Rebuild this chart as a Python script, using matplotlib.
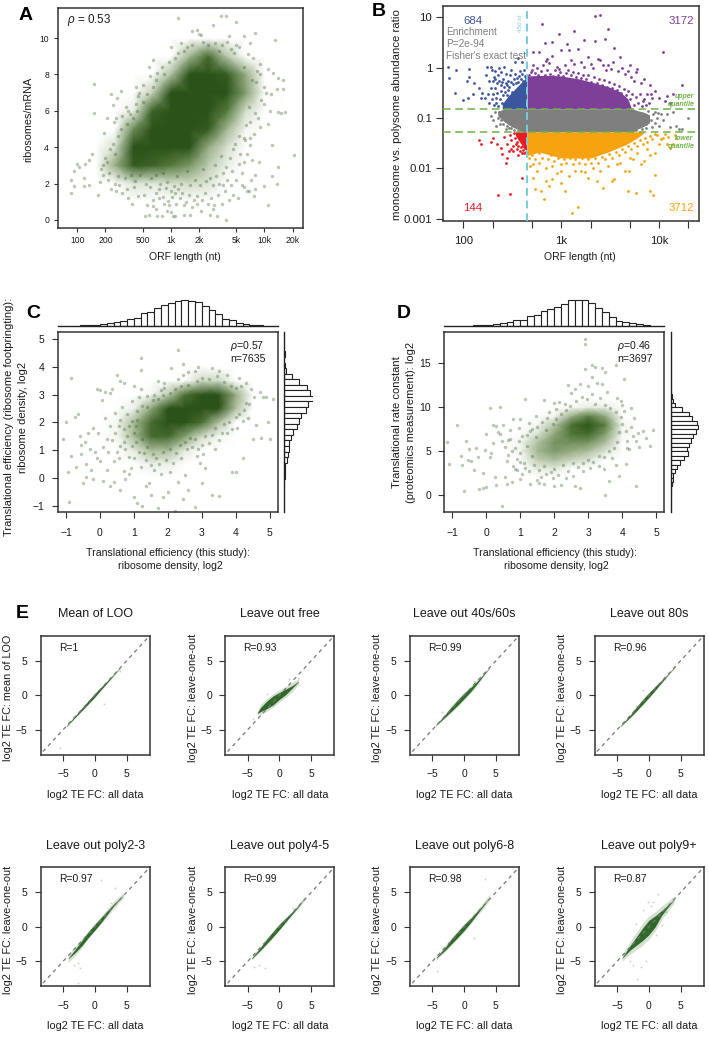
import matplotlib
matplotlib.use('Agg')
import matplotlib.pyplot as plt
from matplotlib.colors import LinearSegmentedColormap

plt.rcParams['font.family'] = ['Liberation Sans', 'DejaVu Sans']
plt.rcParams['mathtext.fontset'] = 'custom'
plt.rcParams['mathtext.it'] = 'Liberation Sans:italic'

W, H = 709, 1040
GREEN = '#2b5218'
FRAME = '#333333'
TEXT = '#1a1a1a'
green_map = LinearSegmentedColormap.from_list('dens', [(0, '#ffffff'), (.08, '#ffffff'), (.22, '#d8e1d0'), (.4, '#9cb089'),
                                                       (.62, '#557a3c'), (.85, GREEN), (1, GREEN)])

a_grid_x = [100, 158, 251, 398, 631, 1000, 1585, 2512, 3981, 6310, 10000, 15849]
a_grid_y = [0, 1, 2, 3, 4, 5, 6, 7, 8, 9, 10, 11]
a_density = [
    [0, 0, 0, 0, 0, 0, 0, 0, 0, 0, 0, 0],
    [0, 0, 0, 0, .03, .08, .08, .05, 0, 0, 0, 0],
    [0, 0, .03, .2, .18, .22, .24, .2, .08, 0, 0, 0],
    [0, 0, .4, .8, .75, .62, .5, .3, .15, 0, 0, 0],
    [0, 0, .22, .88, 1, 1, .85, .42, .22, .07, 0, 0],
    [0, 0, .07, .55, 1, 1, 1, .8, .38, .12, 0, 0],
    [0, 0, 0, .16, .75, 1, 1, 1, .62, .24, 0, 0],
    [0, 0, 0, .03, .28, .88, 1, 1, .85, .48, .1, 0],
    [0, 0, 0, 0, .06, .34, .92, 1, .8, .42, .06, 0],
    [0, 0, 0, 0, 0, .06, .38, .7, .32, .06, 0, 0],
    [0, 0, 0, 0, 0, 0, 0, .03, 0, 0, 0, 0],
    [0, 0, 0, 0, 0, 0, 0, 0, 0, 0, 0, 0],
]
a_points = [(1200, 11.1), (3400, 11.2), (3900, 11.2), (5000, 10.9), (2800, 10.7), (1700, 10.4), (1900, 10.45), (2000, 10.2), (2100, 10.15),
            (8000, 10.3), (6000, 10.1), (13000, 9.9), (4200, 10.1), (1000, 9.5), (1300, 9.7), (1500, 9.5), (5000, 9.6), (7000, 9.7),
            (85, 2.2), (85, 1.5), (93, 1.85), (92, 2.7), (100, 3.1), (105, 2.9), (120, 3.1), (118, 2.3), (118, 1.85), (135, 1.9), (145, 3.6),
            (135, 3.3), (150, 7.5), (150, 5.9), (165, 1.4), (180, 2.8), (200, 3.4), (195, 4.8), (210, 5.6), (245, 5.4), (230, 6.9), (240, 6.3),
            (290, 7.1), (265, 6.7), (530, .2), (590, .25), (720, .2), (800, .2), (900, .5), (1000, .45), (1050, .2), (1100, .2), (1400, .3),
            (1600, .3), (2100, .5), (2600, .25), (3100, .2), (3900, 0), (2800, .6), (1900, .9), (20500, 3.55), (14000, 2.9), (13500, 2),
            (11000, .8), (12000, 2.4), (10000, 1.85), (8000, 1.7), (7700, 1.3), (6000, 1.8), (6800, 1.6), (15000, 5.9), (14000, 5.95),
            (16500, 5.95), (16000, 7.2), (16000, 7.7), (14000, 7.8), (13500, 7.2), (11000, 8.3), (12500, 8.1), (9000, 8), (10000, 6.4),
            (11500, 6), (11000, 5.3), (8000, 5.9), (12000, 4.1), (9000, 5.1), (7000, 4.5), (6000, 4.5),
            (250, 2), (220, 2.6), (190, 2.5), (175, 2.1), (210, 3.2), (230, 1.7), (280, 1.9), (300, 1.5), (350, 1.2), (330, 6.2), (370, 5.8),
            (420, 6.4), (460, 7), (510, 7.4), (600, 7.9), (560, .8), (650, 1.1), (700, .6), (750, 1.2), (850, .9), (950, .8), (1100, 1.5),
            (1250, 1.2), (1450, 1), (1700, .7), (1900, 1.3), (2300, 1.5), (2500, .9), (2900, .8), (3200, 1.4), (3500, .9), (3800, 1.6),
            (4200, 1.1), (4600, 1.4), (5200, 1.2), (5800, 1.9), (6500, 1.6), (7200, 2.2), (8000, 2.5), (8700, 3.2),
            (900, 2.1), (1000, 1.6), (1150, 2.4), (1300, 2), (1500, 2.7), (1800, 2.2), (2200, 2.8), (2600, 2.3), (3000, 3), (3400, 3.5),
            (3900, 2.9), (4300, 3.4), (4800, 4.2), (5500, 3.6), (6200, 4.4), (7000, 4.1), (800, 8.4), (720, 8.1), (640, 8.8), (580, 8.4),
            (600, 1.8), (750, 1.7), (520, 1.4), (450, 1.3), (400, 1.8), (380, .9), (450, 6.8), (500, 6.5), (420, 7.3), (350, 6), (300, 5.7),
            (260, 5.6), (6000, 8.4), (7500, 8.9), (9000, 8.6), (8200, 7.6), (6700, 9.1), (5400, 9.5), (4700, 9.2), (4000, 9.8), (3500, 9.6),
            (640, .75), (690, 1.5), (770, 2), (830, 1.25), (880, 1.75), (930, 1.05), (1020, 1.25), (1080, 1.85), (1130, .9), (1180, 1.7),
            (1330, 1.5), (1380, .85), (1560, 1.35), (1620, 1.9), (1760, 1.1), (2050, 1.95), (2150, 1.1), (2400, 2.15), (2700, 1.2), (2850, 1.9),
            (3050, 2.4), (3300, 2), (3650, 2.6), (3600, 1.9), (4000, 2.2), (4400, 1.9), (4500, 2.7), (5000, 2.2), (5300, 3.1), (5700, 2.6),
            (6100, 3.2), (6600, 3.6), (7400, 3.3), (7800, 4.7), (7000, 5.4), (8500, 5.6), (9200, 6.6), (9800, 7.3), (8300, 8.2), (7400, 7.7),
            (10500, 7), (11800, 6.9), (6400, 5.2), (6800, 6.2), (5400, 4.6), (4600, 3.9), (190, 3), (215, 2.2), (260, 1.6), (270, 2.4), (320, 2.3),
            (340, 1.7), (375, 2.5), (410, 2.15), (470, 2.45), (540, 2), (610, 2.3), (700, 2.5), (820, 2.6), (240, 4.2), (270, 4.6), (225, 3.9),
            (290, 5), (340, 5.3), (390, 5.6), (430, 6), (250, 3.6), (560, 6.9), (640, 7.3), (700, 7.7), (850, 8), (950, 8.7), (1100, 8.9),
            (1200, 9.2), (1400, 9.3), (1700, 9.6), (2200, 9.8), (2500, 9.6), (3000, 9.7), (3300, 9.3), (4400, 9.4)]

# ---- panel B: solid bands per class (length vs. upper/lower ratio), plus loose points
b_blue_x = [250, 290, 330, 380, 445]
b_blue_top = [.19, .28, .36, .48, .64]
b_purple_x = [450, 600, 800, 1000, 1500, 2000, 3000, 4000, 4800, 5200]
b_purple_top = [.68, .7, .7, .68, .6, .52, .42, .33, .24, .16]
b_gray_x = [225, 260, 300, 400, 5500, 6000, 7000, 8000]
b_gray_low = [.11, .085, .07, .053, .053, .06, .068, .08]
b_gray_top = [.135, .15, .15, .15, .15, .14, .13, .115]
b_red_x = [340, 370, 400, 445]
b_red_low = [.045, .035, .028, .022]
b_orange_x = [450, 600, 1000, 2000, 3000, 4500, 6000, 7000]
b_orange_low = [.018, .021, .016, .016, .021, .029, .04, .05]
b_upper = 0.15
b_lower = 0.053
b_cut = 445
b_blue_points = [(70, 1.05), (72, .62), (82, .32), (85, .9), (100, .23), (108, .55), (112, .25), (115, .95), (115, .65), (125, .3), (130, .5),
                 (145, .4), (150, .25), (155, .32), (165, .25), (175, 1.05), (170, .7), (185, .55), (190, 1.05), (195, .9), (200, .55), (210, .85),
                 (210, .4), (225, .7), (230, 1.0), (240, .45), (260, 1.05), (270, .75), (285, .55), (310, .9), (335, 1.3), (400, 1.3), (360, 1.55),
                 (200, .3), (180, .3), (215, .25), (230, .55), (255, .6), (280, .45), (300, .7), (340, .75), (380, .85), (420, .9), (190, .4), (205, .65),
                 (185, .2), (195, .24), (205, .18), (215, .2), (220, .32), (228, .17), (235, .24), (240, .35), (247, .2), (252, .28), (258, .42), (265, .33),
                 (270, .18), (272, .5), (278, .28), (285, .36), (290, .22), (295, .42), (305, .52), (312, .33), (320, .48), (330, .6), (345, .5),
                 (352, .62), (365, .52), (372, .68), (388, .6), (395, .75), (410, .55), (425, .68), (438, .62), (250, .52), (222, .5), (210, .6), (245, .82)]
b_purple_points = [(2200, 10.5), (2500, 11), (630, 7.5), (950, 4.7), (1350, 5.3), (3000, 5.8), (1700, 3.5), (2200, 3.3), (2800, 3.7), (1150, 2.9),
                   (800, 3.2), (680, 3.1), (520, 2), (600, 2), (720, 1.5), (800, 1.7), (1000, 2.2), (1200, 2.2), (1500, 2.3), (1900, 1.6), (2500, 1.4),
                   (3000, 1.1), (3500, 2.4), (4000, 1.6), (11000, 2), (5000, 1.1), (6000, .95), (7000, .6), (8000, .45), (9000, .35), (10000, .25),
                   (12000, .27), (14000, .3), (17000, .45), (13000, .2), (11500, .22), (500, .9), (560, 1), (650, 1.1), (750, 1.25), (900, 1.05),
                   (1100, 1.15), (1350, 1.2), (1700, 1.05), (2100, 1), (2700, 1.1), (3200, .95), (3800, .85), (4500, .75), (5200, .65), (5800, .8),
                   (6500, .5), (7500, .3), (8500, .25), (5500, .55), (6800, .22), (4800, .85), (520, 1.1), (700, 1.35), (950, .95), (1250, 1.4),
                   (1600, 1.3), (2000, 1.2), (2400, 1.45), (2900, .9), (3400, 1.3), (4200, 1),
                   (470, .72), (490, .82), (540, .78), (580, .7), (620, .85), (680, .72), (720, .9), (770, .75), (830, .68), (870, .88), (930, .72),
                   (980, .82), (1040, .68), (1120, .78), (1180, .9), (1260, .7), (1330, .82), (1420, .66), (1480, .78), (1580, .62), (1660, .72),
                   (1800, .58), (1880, .7), (2000, .52), (2150, .66), (2300, .5), (2450, .6), (2600, .45), (2750, .56), (2950, .42), (3100, .52),
                   (3300, .4), (3500, .48), (3700, .36), (3900, .44), (4100, .32), (4350, .38), (4600, .28), (4850, .35), (5100, .24), (5300, .3),
                   (5600, .18), (5800, .26), (6100, .2), (6400, .3), (6700, .17), (7100, .24), (7400, .18), (7900, .2), (8300, .3)]
b_gray_points = [(9500, .1), (11000, .09), (12000, .12), (14000, .13), (15000, .07), (16000, .06), (13000, .065), (17000, .06), (20000, .1), (190, .11),
                 (200, .09), (215, .07), (10000, .07), (10500, .12), (8500, .065), (9000, .13), (210, .13), (235, .075), (270, .06),
                 (225, .1), (232, .13), (245, .09), (255, .075), (265, .13), (280, .07), (290, .062), (310, .063), (330, .058), (360, .056),
                 (5800, .057), (6300, .065), (6700, .06), (7300, .075), (7700, .14), (8200, .09), (8600, .12), (9100, .08), (9800, .125), (7400, .062)]
b_red_points = [(225, .003), (300, .0031), (400, .0065), (145, .037), (150, .03), (190, .034), (200, .04), (240, .025), (250, .019), (270, .013), (280, .016),
                (280, .03), (300, .045), (260, .042), (330, .05), (350, .024), (360, .018), (290, .022), (320, .028), (340, .04), (310, .036), (220, .03),
                (375, .045), (395, .02), (305, .024), (325, .022), (345, .03), (355, .033), (365, .028), (385, .026), (405, .023), (420, .02), (435, .021),
                (380, .022), (410, .028), (425, .025)]
b_orange_points = [(480, .011), (520, .0065), (540, .0038), (620, .0035), (660, .0025), (700, .0055), (750, .0045), (800, .006), (900, .008), (1000, .005),
                   (1100, .0035), (1300, .0013), (1500, .0017), (1200, .007), (1600, .009), (1900, .0065), (2100, .01), (2300, .0055), (2700, .004), (3300, .0055),
                   (3500, .006), (4800, .0035), (5800, .0033), (8000, .0035), (8700, .003), (9000, .0075), (4500, .009), (4900, .009), (6500, .012), (7000, .014),
                   (8000, .018), (9000, .02), (10000, .03), (11000, .04), (12000, .03), (13000, .025), (14000, .03), (15000, .04), (11500, .048), (9500, .045),
                   (800, .011), (1000, .009), (700, .01), (600, .013), (3000, .011), (4000, .013), (5000, .016), (6000, .02), (520, .012), (560, .009), (1400, .009),
                   (1750, .0085), (2500, .009), (3700, .012), (5400, .015), (7600, .024), (10500, .038), (12500, .042), (14500, .045),
                   (470, .016), (500, .018), (540, .015), (590, .02), (640, .016), (680, .021), (730, .015), (780, .018), (850, .014), (920, .016), (990, .012),
                   (1060, .015), (1130, .013), (1220, .016), (1310, .012), (1400, .015), (1520, .013), (1630, .016), (1750, .012), (1860, .015), (2000, .013),
                   (2200, .016), (2400, .013), (2600, .017), (2800, .015), (3050, .019), (3300, .016), (3600, .021), (3900, .018), (4200, .024), (4500, .021),
                   (4800, .028), (5200, .024), (5600, .032), (6000, .028), (6400, .036), (6800, .03), (7200, .04), (7600, .034), (8100, .044), (8500, .038), (9000, .048)]
b_tick_major = [100, 1000, 10000]
b_tick_major_labels = ['100', '1k', '10k']
b_tick_minor = [200, 500, 2000, 5000, 20000]
b_yticks = [10, 1, .1, .01, .001]
b_ylabels = ['10', '1', '0.1', '0.01', '0.001']

# ---- panel C
c_grid_x = [-.5, 0, .5, 1, 1.5, 2, 2.5, 3, 3.5, 4, 4.5]
c_grid_y = [-.5, 0, .5, 1, 1.5, 2, 2.5, 3, 3.5, 4]
c_density = [
    [0, 0, 0, 0, 0, 0, 0, 0, 0, 0, 0],
    [0, 0, 0, 0, 0, 0, 0, 0, 0, 0, 0],
    [0, 0, 0, .05, .15, .15, .05, 0, 0, 0, 0],
    [0, 0, .06, .18, .36, .36, .18, .06, 0, 0, 0],
    [0, 0, .12, .36, .7, .72, .48, .24, .12, 0, 0],
    [0, 0, .12, .36, .7, 1, .95, .68, .34, .06, 0],
    [0, 0, 0, .15, .44, .85, 1, 1, .85, .34, 0],
    [0, 0, 0, 0, .12, .3, .66, .95, .92, .42, 0],
    [0, 0, 0, 0, 0, 0, .1, .25, .25, 0, 0],
    [0, 0, 0, 0, 0, 0, 0, 0, 0, 0, 0],
]
c_points = [(-1.1, 1.4), (-.85, 3.6), (-1, 2), (-.75, 2.2), (-.65, 2.3), (-.6, 1.5), (-.55, 1.2), (-.45, 1.3), (-.35, 1.6), (-.3, 1.05), (-.2, 1.8), (-.15, .95),
            (-.1, 3.2), (0, 3.15), (.05, 2.8), (.15, 3.1), (.2, 1.4), (.3, 3.05), (.35, 3.2), (.5, 3.7), (.6, 3.5), (.7, 3.4), (-.95, .2), (-.85, .8), (-.55, .85),
            (-.4, .5), (-.25, .3), (-.1, .7), (.1, -.1), (.3, -.3), (.4, .6), (.6, -.45), (.75, -.05), (.9, .35), (1, -.7), (1.1, -.9), (1.25, -1), (1.35, -.3),
            (1.5, -.6), (1.7, -1.1), (1.85, -.7), (2, -.5), (2.2, -1.2), (2.45, -.75), (2.6, -.45), (2.8, -1.05), (3, -.2), (3.3, -.6), (-.9, -.85), (-.7, .4),
            (-.5, -.2), (-.4, .05), (-.2, -.05), (0, .6), (.2, .3), (.4, -.15), (.55, .7), (.7, .25), (.85, .15), (1, .7), (1.2, .4), (1.3, .9), (1.45, -.2), (1.6, .3),
            (1.8, .15), (2.05, .2), (2.3, -.15), (2.5, .1), (2.95, .55), (3.1, .35), (3.5, -.65), (4, .2), (.1, 1.1), (.25, .95), (.55, 1.85), (.8, 1.5), (1, 3.3),
            (1.2, 3.9), (1.2, 4.3), (1.9, 3.4), (2.1, 3.95), (2.3, 4.6), (2.45, 4.1), (2.6, 3.8), (2.8, 3.85), (2.9, 4), (3.3, 3.95), (3.5, 3.85), (3.75, 3.7),
            (4.1, 3.6), (4.3, 3.4), (4.45, 3.2), (4.7, 3.1), (4.9, 2.9), (5.1, 2.85), (1.2, 3.2), (1.7, 3.5), (2.3, 3.55), (2.45, 3.7), (1.8, 3.15), (1.9, 3.25),
            (2.5, 1.3), (3, 1.2), (3.4, 1.05), (3.9, .2), (4.2, .7), (4.5, 1.4), (4.75, 1.45), (5, 1.4), (4.8, 2.9), (4.95, 2), (3.6, 1.6), (3.1, 1.5), (2.7, 1.1), (2.85, .8),
            (-.05, 1.6), (.15, 2.15), (.45, 2.35), (.65, 2.55), (.95, 2.75), (1.15, 2.9), (1.4, 2.95), (1.6, 3), (3.8, 2), (4.05, 1.8), (4.35, 2.15), (4.6, 1.9), (4.4, 2.65),
            (4.25, 2.45), (4.55, 2.9), (4.15, 3.3), (.3, 1.85), (.5, .95), (.75, 1.05), (1.05, 1.3),
            (.35, 1.35), (.45, 1.6), (.6, 1.15), (.7, 1.75), (.85, .75), (.95, 1.15), (1.05, 1.85), (1.15, .95), (1.25, 1.4), (1.35, .65), (1.4, 1.1), (1.5, .45), (1.55, .85),
            (1.65, .7), (1.75, .5), (1.85, .95), (1.95, .65), (2.05, 1.05), (2.15, .55), (2.25, .9), (2.35, 1.2), (2.4, .7), (2.55, 1.05), (2.65, 1.45), (2.8, 1.4), (2.9, 1.05),
            (3.05, .85), (3.2, 1.25), (3.3, 1.55), (3.4, 1.8), (3.5, 1.35), (3.65, 1.95), (3.75, 1.6), (3.9, 1.75), (4, 2.2), (4.2, 2.05), (4.3, 2.7), (4.1, 2.3),
            (.6, 2.1), (.8, 2.3), (.95, 2.05), (1.1, 2.4), (1.25, 2.6), (1.4, 2.55), (1.55, 2.8), (1.7, 2.85), (1.85, 3), (2.05, 3.05), (2.2, 3.2), (2.4, 3.3), (2.6, 3.35),
            (2.85, 3.5), (3, 3.6), (3.2, 3.55), (3.45, 3.65), (3.65, 3.45), (3.85, 3.3), (4, 3.25), (.7, 1.3), (1, 1.6), (1.1, 2.1), (.85, 1.85)]
c_top_centers = [-.5, -.3, -.1, .1, .3, .5, .7, .9, 1.1, 1.3, 1.5, 1.7, 1.9, 2.1, 2.3, 2.5, 2.7, 2.9, 3.1, 3.3, 3.5, 3.7, 3.9, 4.1, 4.3, 4.5, 4.7]
c_top_counts = [.5, 1, 2, 3, 7, 10, 14, 18, 23, 35, 40, 50, 60, 66, 72, 75, 72, 67, 58, 45, 33, 20, 15, 8, 5, 2, 1]
c_side_centers = [4.45, 4.05, 3.85, 3.65, 3.45, 3.25, 3.05, 2.85, 2.65, 2.45, 2.25, 2.05, 1.85, 1.65, 1.45, 1.25, 1.05, .85, .65, .45, .25, .05, -.2]
c_side_counts = [1, 2, 5, 22, 43, 68, 78, 85, 72, 65, 50, 43, 38, 25, 20, 15, 13, 10, 8, 2, 1, 1, .5]

# ---- panel D
d_grid_x = [0, .5, 1, 1.5, 2, 2.5, 3, 3.5, 4, 4.5]
d_grid_y = [1, 2, 3, 4, 5, 6, 7, 8, 9, 10, 11, 12]
d_density = [
    [0, 0, 0, 0, 0, 0, 0, 0, 0, 0],
    [0, 0, 0, .03, .05, 0, 0, 0, 0, 0],
    [0, 0, 0, .2, .22, .1, .05, 0, 0, 0],
    [0, 0, .1, .35, .42, .32, .25, .1, 0, 0],
    [0, 0, .15, .45, .58, .5, .42, .25, 0, 0],
    [0, 0, .15, .4, .62, .64, .62, .42, .1, 0],
    [0, 0, .1, .25, .52, .78, .86, .58, .15, 0],
    [0, 0, 0, .15, .38, .82, 1, .72, .15, 0],
    [0, 0, 0, 0, .15, .48, .72, .52, .1, 0],
    [0, 0, 0, 0, 0, .12, .2, .2, 0, 0],
    [0, 0, 0, 0, 0, 0, 0, 0, 0, 0],
    [0, 0, 0, 0, 0, 0, 0, 0, 0, 0],
]
d_points = [(-1.15, 6), (-1.1, 3.5), (-.85, 8), (-.7, 3.4), (-.75, 4.5), (-.65, .5), (-.6, 6.1), (-.55, 4), (-.5, 5.2), (-.45, 3.9), (-.3, 5.3), (-.2, .7), (-.1, .8),
            (0, .9), (.1, 9.9), (.2, 8), (.3, 1.1), (.4, 10), (.45, -1.2), (.6, 1.2), (.75, 1.5), (-.35, 2.8), (-.25, 4.3), (-.1, 2.5), (-.05, 5.1), (0, 6.9), (.15, 4.8),
            (.25, 2.1), (.4, 7), (.55, 2), (.7, 6.4), (.85, 3), (1, 1.8), (1.15, 10.9), (1.3, 1.2), (1.5, 1.7), (1.7, 1.2), (2, 1), (2.2, 1.1), (2.6, 1), (2.75, .8), (3.5, 0),
            (2.9, 17.8), (2.9, 17.2), (2.9, 14.3), (3.1, 14.8), (3.2, 14.6), (3.4, 14.5), (3.5, 14), (3.8, 14.8), (4.05, 13.2), (3.1, 13.4), (3.4, 12.6), (2.4, 12.5),
            (2.6, 12.1), (1.7, 10.8), (1, 8.6), (2, 10.5), (3.6, 1.6), (3.9, 2.2), (4.1, 3.5), (4.4, 1), (4.5, 5.5), (4.7, 6.5), (4.9, 7.4), (4.8, 5.6), (4.6, 7.3),
            (.1, 4.3), (.2, 5.9), (.35, 7.2), (.5, 8), (.65, 6.3), (.8, 8.7), (.95, 7.6), (1.1, 3.6), (1.25, 8.2), (1.45, 9), (1.6, 2.1), (1.85, 9.4), (2.05, 9.8), (2.3, 10.4),
            (2.5, 11.6), (2.75, 12.6), (3, 12.4), (3.25, 12.8), (3.55, 11.7), (3.95, 10.7), (4.25, 9.9), (4.35, 8.8), (4.15, 6.1), (3.8, 3.4), (.3, 7.9), (.45, 6.2), (.6, 3.9),
            (.75, 5), (.9, 4.1), (1.05, 2.4), (1.2, 6.8), (1.35, 7.5), (1.55, 1.4), (1.75, 2.4), (1.95, 1.9), (2.15, 10.6), (2.35, 1.9), (2.55, 2.2), (2.85, 2.7), (3.05, 3.1),
            (3.3, 3.3), (3.45, 3), (3.7, 4.2), (3.85, 11.1), (4, 10.2), (4.2, 5.2), (4.05, 9.6),
            (.85, 5.4), (.95, 6.1), (1, 4.8), (1.05, 6.7), (1.15, 3.1), (1.2, 5.6), (1.25, 2.7), (1.3, 7.3), (1.35, 4.4), (1.4, 3.4), (1.45, 6.6), (1.5, 7.8), (1.55, 2.8),
            (1.65, 8.3), (1.7, 3.3), (1.75, 7.4), (1.8, 8.8), (1.9, 2.6), (1.95, 8.1), (2, 3), (2.05, 8.7), (2.1, 2.3), (2.2, 9.2), (2.25, 3.4), (2.35, 9.7), (2.4, 2.7),
            (2.45, 10.1), (2.55, 3.6), (2.65, 10.7), (2.7, 3.2), (2.8, 11.2), (2.85, 3.7), (2.95, 10.9), (3, 4), (3.1, 11.5), (3.15, 3.8), (3.2, 10.4), (3.3, 4.5), (3.35, 11.1),
            (3.45, 4.3), (3.5, 10.3), (3.6, 5), (3.65, 9.9), (3.75, 5.4), (3.8, 9.4), (3.85, 6), (3.95, 8.9), (3.9, 7.2), (4, 8.1), (4.1, 7.3), (4.15, 5.3), (4.3, 6.7), (4.25, 7.8),
            (4.4, 6.2), (4.45, 7.1), (.55, 5.5), (.65, 4.6), (.7, 7.4), (.8, 3.3), (.9, 2.9), (1, 3.8)]
d_top_centers = [-.3, -.1, .1, .3, .5, .7, .9, 1.1, 1.3, 1.5, 1.7, 1.9, 2.1, 2.3, 2.5, 2.7, 2.9, 3.1, 3.3, 3.5, 3.7, 3.9, 4.1, 4.3, 4.5, 4.7]
d_top_counts = [1, 1.5, 2, 5, 8, 11, 15, 16, 27, 30, 43, 48, 55, 62, 75, 75, 73, 66, 52, 38, 25, 14, 10, 6, 3, 1]
d_side_centers = [11.75, 11.25, 10.75, 10.25, 9.75, 9.25, 8.75, 8.25, 7.75, 7.25, 6.75, 6.25, 5.75, 5.25, 4.75, 4.25, 3.75, 3.25, 2.75, 2.25, 1.75, 1.25, .75, .25]
d_side_counts = [2, 5, 8, 13, 36, 55, 65, 80, 83, 78, 68, 62, 55, 50, 52, 42, 30, 20, 12, 8, 7, 3, 2, 1]

# ---- panel E: all-data FC vs. ribbon centre / thickness of the cloud
e_titles = ['Mean of LOO', 'Leave out free', 'Leave out 40s/60s', 'Leave out 80s',
            'Leave out poly2-3', 'Leave out poly4-5', 'Leave out poly6-8', 'Leave out poly9+']
e_ylabels = ['log2 TE FC: mean of LOO'] + ['log2 TE FC: leave-one-out'] * 7
e_r = ['R=1', 'R=0.93', 'R=0.99', 'R=0.96', 'R=0.97', 'R=0.99', 'R=0.98', 'R=0.87']
e_band_x = [
    [-4.5, -3, -2, -1, 0, 1, 2, 3, 4],
    [-3.5, -3, -2, -1, 0, 1, 2, 3],
    [-4.5, -3, -2, -1, 0, 1, 2, 3, 4],
    [-4.5, -3, -2, -1, 0, 1, 2, 3, 4.2],
    [-4.2, -3, -2, -1, 0, 1, 2, 3, 4.5],
    [-4.4, -3, -2, -1, 0, 1, 2, 3, 4],
    [-4.4, -3, -2, -1, 0, 1, 2, 3, 4],
    [-4.2, -3, -2, -1, 0, 1, 2, 3, 4],
]
e_band_y = [
    [-4.5, -3, -2, -1, 0, 1, 2, 3, 4],
    [-2.6, -2.1, -1.4, -.75, -.1, .5, 1.2, 2],
    [-4.4, -3, -2, -1.05, -.1, .8, 1.8, 2.9, 4],
    [-4.5, -3.1, -2.05, -1, 0, 1, 2, 3, 4.2],
    [-4.6, -3.4, -2.3, -1.1, -.05, 1, 2.1, 3.2, 4.6],
    [-4.6, -3.2, -2.1, -1.05, 0, 1, 2, 3, 4.2],
    [-4.5, -3.2, -2.1, -1.1, -.1, .9, 2, 3.1, 4.3],
    [-4.5, -3.1, -2.1, -1.1, -.1, .8, 2, 3, 4],
]
e_core = [
    [.05, .12, .18, .22, .25, .18, .12, .06, .03],
    [.05, .3, .55, .65, .5, .4, .18, .03],
    [.03, .18, .32, .38, .38, .3, .18, .08, .03],
    [.05, .15, .28, .33, .33, .26, .16, .06, .03],
    [.05, .25, .38, .42, .42, .36, .25, .12, .02],
    [.06, .2, .32, .38, .38, .26, .16, .08, .02],
    [.06, .2, .36, .42, .42, .3, .2, .1, .02],
    [.05, .32, .6, .9, 1.05, .8, .35, .15, .03],
]
e_halo = [
    [.15, .2, .25, .3, .3, .25, .22, .18, .12],
    [.2, .75, .95, 1, .9, .8, .7, .4],
    [.15, .35, .5, .6, .6, .5, .45, .28, .12],
    [.12, .25, .38, .45, .45, .38, .26, .18, .1],
    [.6, .7, .65, .55, .55, .55, .55, .55, .4],
    [.25, .4, .5, .5, .5, .4, .28, .3, .3],
    [.3, .45, .55, .6, .6, .5, .45, .45, .45],
    [.5, .9, 1.25, 1.6, 1.7, 1.4, 1, .75, .5],
]
e_stray_x = [[-5.5, 1.5, 4], [-4.2, -2, 3, 1.5], [-3.5, 1.5, 3.2], [-2, -1, 2.5], [-2.6, -3.3, 1, -2.4, -2.7, 2.5, 3.2], [-4, -2.3, -3.3, 2.2], [-4.3, 1.5, -3, 3.3],
             [-1.8, -1.2, -.5, .7, 2, -3, -2.5, -.2, 1.5, 2.7, -2, .3, -1, 1.2]]
e_stray_y = [[-7.7, -1.3, 3.5], [-3.5, .2, 2.5, 2.3], [-2.4, 2.1, 3.3], [-1.6, .7, 2.4], [-8.2, -5.5, 6.8, -6, -5.3, 3.5, 5.7], [-5.9, -6, -5.5, 2.8], [-6.4, -1.6, -3, 6.9],
             [-7.6, -5.8, -4.9, 3.6, .3, -5, -5.5, 3.6, 4.8, 2.1, .4, 3, 2.5, -1.2]]
e_ticks = [-5, 0, 5]
e_tick_labels = ['\u22125', '0', '5']
e_left = [40.7, 225.3, 410, 594.7]
e_top = [635.7, 867.3]


def make_axes(left, top, right, bottom):
    return fig.add_axes([left / W, 1 - bottom / H, (right - left) / W, (bottom - top) / H])


def px_text(x, y, s, **kw):
    kw.setdefault('ha', 'center')
    kw.setdefault('va', 'center')
    kw.setdefault('color', TEXT)
    fig.text(x / W, 1 - y / H, s, **kw)


def style(ax, size=7.5, length=3):
    for sp in ax.spines.values():
        sp.set_color(FRAME)
        sp.set_linewidth(1.1)
    ax.tick_params(labelsize=size, length=length, width=0.8, color=FRAME, labelcolor=TEXT, pad=3)


def density_scatter(ax, gx, gy, dens, points, dens_max=1.0):
    ax.pcolormesh(gx, gy, dens, shading='gouraud', cmap=green_map, vmin=0, vmax=dens_max, zorder=1, rasterized=True)
    px, py = zip(*points)
    ax.scatter(px, py, s=6, color=GREEN, alpha=0.32, linewidths=0, zorder=2)


def dots(ax, points, color):
    px, py = zip(*points)
    ax.scatter(px, py, s=4, color=color, linewidths=0, zorder=2)


def top_hist(left, right, xlim, centers, counts):
    ax = make_axes(left, 299, right, 325.5)
    ax.bar(centers, counts, width=0.2, facecolor='white', edgecolor='#222222', linewidth=0.8)
    ax.axhline(0, color='#222222', linewidth=1.0, clip_on=False)
    ax.set_xlim(xlim)
    ax.set_ylim(0, 77)
    ax.axis('off')


def side_hist(x0, x1, ylim, centers, counts, height):
    ax = make_axes(x0, 332.3, x1, 512)
    ax.barh(centers, counts, height=height, facecolor='white', edgecolor='#222222', linewidth=0.8)
    ax.axvline(0, color='#222222', linewidth=1.0, clip_on=False)
    ax.set_ylim(ylim)
    ax.set_xlim(0, 86)
    ax.axis('off')


fig = plt.figure(figsize=(W / 100, H / 100), dpi=100)

# A
ax = make_axes(57.5, 8, 303, 228)
density_scatter(ax, a_grid_x, a_grid_y, a_density, a_points)
ax.set_xscale('log')
ax.set_xlim(61.4, 25900)
ax.set_ylim(-0.44, 11.65)
ax.set_xticks([100, 200, 500, 1000, 2000, 5000, 10000, 20000])
ax.set_xticklabels(['100', '200', '500', '1k', '2k', '5k', '10k', '20k'])
ax.minorticks_off()
ax.set_yticks([0, 2, 4, 6, 8, 10])
style(ax, 6.2)
px_text(185, 257, 'ORF length (nt)', fontsize=7.5)
px_text(28, 119, 'ribosomes/mRNA', fontsize=7.8, rotation=90)
px_text(89, 20, r'$\it{\rho}$ = 0.53', fontsize=8.4)
px_text(26, 15, 'A', fontsize=14, fontweight='bold', color='black')

# B
ax = make_axes(443.3, 6, 698.7, 221)
ax.set_xscale('log')
ax.set_yscale('log')
ax.fill_between(b_blue_x, b_upper, b_blue_top, color='#3b559f', linewidth=0, zorder=1)
ax.fill_between(b_purple_x, b_upper, b_purple_top, color='#7d3f98', linewidth=0, zorder=1)
ax.fill_between(b_gray_x, b_gray_low, b_gray_top, color='#807f80', linewidth=0, zorder=1)
ax.fill_between(b_red_x, b_red_low, b_lower, color='#e81c24', linewidth=0, zorder=1)
ax.fill_between(b_orange_x, b_orange_low, b_lower, color='#f7a30f', linewidth=0, zorder=1)
dots(ax, b_blue_points, '#3b559f')
dots(ax, b_purple_points, '#7d3f98')
dots(ax, b_gray_points, '#807f80')
dots(ax, b_red_points, '#e81c24')
dots(ax, b_orange_points, '#f7a30f')
ax.axhline(b_upper, color='#6fb144', linestyle=(0, (5, 3)), linewidth=1.1, zorder=3)
ax.axhline(b_lower, color='#6fb144', linestyle=(0, (5, 3)), linewidth=1.1, zorder=3)
ax.axvline(b_cut, color='#75cde0', linestyle=(0, (4, 2.5)), linewidth=1.4, zorder=3)
ax.set_xlim(62.4, 25470)
ax.set_ylim(0.000899, 16.7)
ax.set_xticks(b_tick_major)
ax.set_xticklabels(b_tick_major_labels)
ax.set_xticks(b_tick_minor, minor=True)
ax.set_xticklabels([''] * len(b_tick_minor), minor=True)
ax.set_yticks(b_yticks)
ax.set_yticklabels(b_ylabels)
ax.tick_params(axis='y', which='minor', length=0)
style(ax, 8.2, 5)
ax.tick_params(axis='x', which='minor', length=5, width=0.8, color=FRAME)
ax.tick_params(axis='x', pad=6)
px_text(580, 257, 'ORF length (nt)', fontsize=7.5)
px_text(397, 115, 'monosome vs. polysome abundance ratio', fontsize=8.2, rotation=90)
px_text(473, 21, '684', fontsize=8.2, color='#3b559f')
px_text(681, 21, '3172', fontsize=8.2, color='#7d3f98')
px_text(473, 208, '144', fontsize=8.2, color='#e81c24')
px_text(681, 208, '3712', fontsize=8.2, color='#f7a30f')
px_text(446, 32, 'Enrichment', fontsize=7.2, color='#807f80', ha='left')
px_text(446, 44, 'P=2e-94', fontsize=7.2, color='#807f80', ha='left')
px_text(446, 56, "Fisher's exact test", fontsize=7.2, color='#807f80', ha='left')
px_text(521, 23, '450 nt', fontsize=4.5, color='#75cde0', rotation=90, style='italic')
px_text(684, 96, 'upper', fontsize=5, color='#6fb144', style='italic', fontweight='bold')
px_text(681, 105, 'quantile', fontsize=5, color='#6fb144', style='italic', fontweight='bold')
px_text(684, 138, 'lower', fontsize=5, color='#6fb144', style='italic', fontweight='bold')
px_text(681, 147, 'quantile', fontsize=5, color='#6fb144', style='italic', fontweight='bold')
px_text(379, 11, 'B', fontsize=14, fontweight='bold', color='black')

# C
ax = make_axes(57.7, 332.3, 278, 512)
density_scatter(ax, c_grid_x, c_grid_y, c_density, c_points)
ax.set_xlim(-1.245, 5.245)
ax.set_ylim(-1.227, 5.24)
ax.set_xticks([-1, 0, 1, 2, 3, 4, 5])
ax.set_xticklabels(['\u22121', '0', '1', '2', '3', '4', '5'])
ax.set_yticks([-1, 0, 1, 2, 3, 4, 5])
ax.set_yticklabels(['\u22121', '0', '1', '2', '3', '4', '5'])
style(ax, 7.5, 4.5)
ax.tick_params(axis='x', pad=7)
ax.tick_params(axis='y', pad=5)
top_hist(57.7, 278, (-1.245, 5.245), c_top_centers, c_top_counts)
side_hist(284.3, 313, (-1.227, 5.24), c_side_centers, c_side_counts, 0.2)
px_text(168, 553, 'Translational efficiency (this study):', fontsize=7.6)
px_text(170, 566, 'ribosome density, log2', fontsize=7.6)
px_text(9, 417, 'Translational efficiency (ribosome footpringting):', fontsize=8, rotation=90)
px_text(23, 417, 'ribosome density, log2', fontsize=8, rotation=90)
px_text(247, 346, r'$\it{\rho}$=0.57', fontsize=7.6)
px_text(248, 359, 'n=7635', fontsize=7.6)
px_text(33, 313, 'C', fontsize=14, fontweight='bold', color='black')

# D
ax = make_axes(444.3, 332.3, 664.3, 511.7)
density_scatter(ax, d_grid_x, d_grid_y, d_density, d_points, dens_max=1.2)
ax.set_xlim(-1.235, 5.235)
ax.set_ylim(-1.9, 18.53)
ax.set_xticks([-1, 0, 1, 2, 3, 4, 5])
ax.set_xticklabels(['\u22121', '0', '1', '2', '3', '4', '5'])
ax.set_yticks([0, 5, 10, 15])
style(ax, 7.5, 4.5)
ax.tick_params(axis='x', pad=7)
ax.tick_params(axis='y', pad=5)
top_hist(444.3, 664.3, (-1.235, 5.235), d_top_centers, d_top_counts)
side_hist(670.7, 698.7, (-1.9, 18.53), d_side_centers, d_side_counts, 0.5)
px_text(555, 553, 'Translational efficiency (this study):', fontsize=7.6)
px_text(556, 566, 'ribosome density, log2', fontsize=7.6)
px_text(397, 422, 'Translational rate constant', fontsize=8, rotation=90)
px_text(411, 422, '(proteomics measurement): log2', fontsize=8, rotation=90)
px_text(634, 346, r'$\it{\rho}$=0.46', fontsize=7.6)
px_text(635, 359, 'n=3697', fontsize=7.6)
px_text(404, 313, 'D', fontsize=14, fontweight='bold', color='black')

# E
for i in range(8):
    row, col = i // 4, i % 4
    left, top = e_left[col], e_top[row]
    right, bottom = left + 109, top + 119
    ax = make_axes(left, top, right, bottom)
    low_h = [c - h for c, h in zip(e_band_y[i], e_halo[i])]
    high_h = [c + h for c, h in zip(e_band_y[i], e_halo[i])]
    low_c = [c - h for c, h in zip(e_band_y[i], e_core[i])]
    high_c = [c + h for c, h in zip(e_band_y[i], e_core[i])]
    ax.fill_between(e_band_x[i], low_h, high_h, color='#a8ba9c', alpha=0.45, linewidth=0, zorder=1)
    ax.fill_between(e_band_x[i], low_c, high_c, color='#2f6a2a', linewidth=0, zorder=2)
    ax.scatter(e_stray_x[i], e_stray_y[i], s=2, color='#7f9a70', alpha=0.4, linewidths=0, zorder=2)
    ax.plot([-8.2, 8.3], [-8.2, 8.3], color='#777777', linestyle=(0, (3, 3)), linewidth=0.9, zorder=3)
    ax.set_xlim(-8.55, 8.65)
    ax.set_ylim(-8.65, 8.65)
    ax.set_xticks(e_ticks)
    ax.set_xticklabels(e_tick_labels)
    ax.set_yticks(e_ticks)
    ax.set_yticklabels(e_tick_labels)
    style(ax, 7.5, 4.5)
    ax.tick_params(axis='x', pad=6)
    ax.tick_params(axis='y', pad=5)
    ax.text(0.165, 0.9, e_r[i], transform=ax.transAxes, fontsize=7.4, color=TEXT, ha='left', va='center')
    px_text(left + 54.5, top - 21.5, e_titles[i], fontsize=9)
    px_text(left + 54.5, bottom + 40, 'log2 TE FC: all data', fontsize=7.8)
    px_text(left - 32.5, (top + bottom) / 2 + 3, e_ylabels[i], fontsize=7.8, rotation=90)
px_text(22, 614, 'E', fontsize=14, fontweight='bold', color='black')

fig.savefig('out.png', dpi=100)
